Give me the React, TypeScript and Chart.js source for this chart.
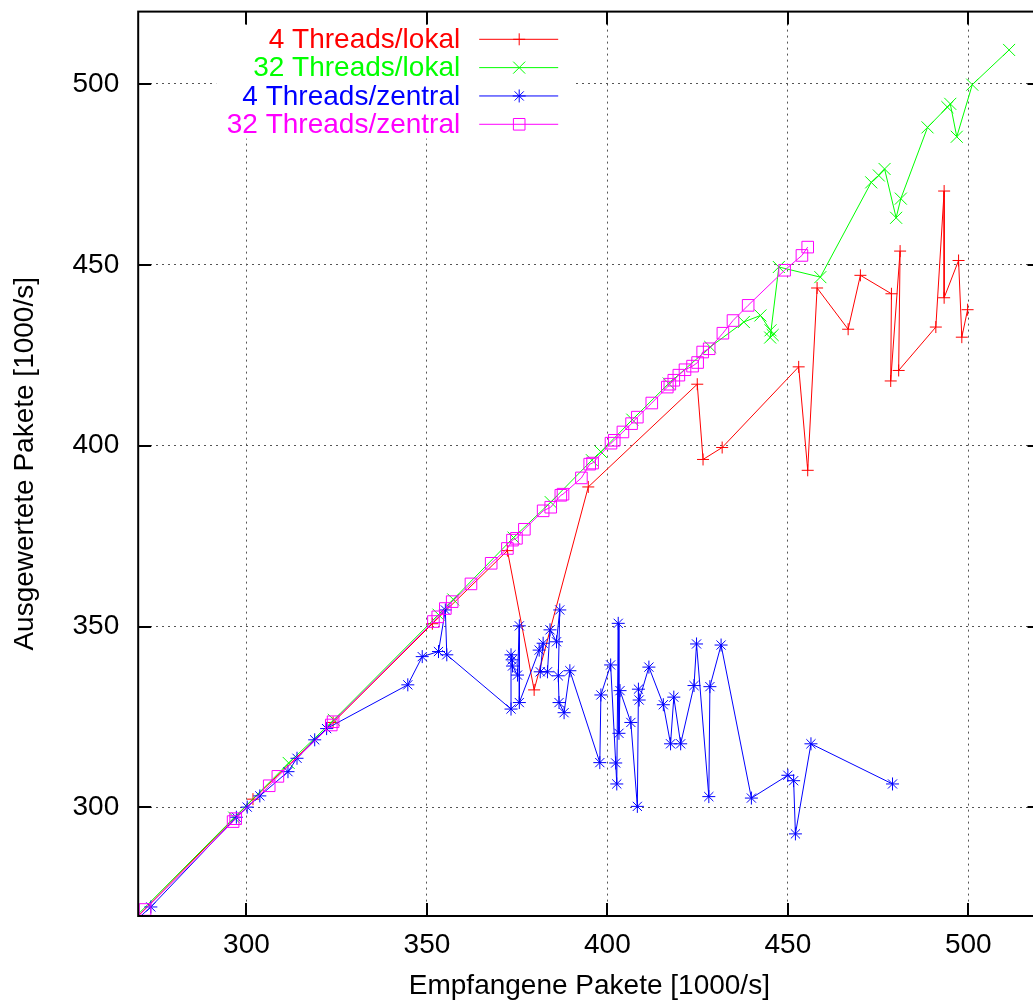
import React, { useEffect, useRef } from 'react';
import { Chart, registerables } from 'chart.js';
import { drawPoint } from 'chart.js/helpers';

Chart.register(...registerables);

const FONT_FAMILY = "'Liberation Sans', Arial, Helvetica, sans-serif";

// Axis setup (values in 1000 packets/s)
const xRange = [270, 520];
const yRange = [270, 520];
const xTicks = [300, 350, 400, 450, 500];
const yTicks = [300, 350, 400, 450, 500];
const xTitle = 'Empfangene Pakete [1000/s]';
const yTitle = 'Ausgewertete Pakete [1000/s]';

// 4 Threads / lokal
const lokal4X = [266, 301.8, 324.0, 351.5, 372.3, 379.7, 394.7, 424.9, 426.5, 431.8, 453.0, 455.5, 458.1, 466.7, 470.1, 478.7, 478.5, 481.1, 480.7, 491.0, 493.3, 493.3, 497.3, 498.2, 499.8];
const lokal4Y = [266, 302.3, 323.5, 350.8, 371.0, 332.5, 388.6, 417.0, 396.2, 399.5, 421.8, 393.2, 443.6, 432.2, 447.1, 442.0, 417.9, 453.8, 420.8, 432.8, 470.4, 440.9, 451.2, 430.0, 437.6];

// 32 Threads / lokal
const lokal32X = [265, 296.6, 311.7, 324.2, 353.2, 357.3, 374.0, 384.3, 395.7, 398.2, 406.9, 417.0, 428.5, 437.8, 442.4, 445.2, 445.8, 445.1, 447.5, 459.0, 473.1, 475.2, 476.8, 480.0, 481.3, 488.7, 494.2, 495.0, 496.8, 501.1, 511.3];
const lokal32Y = [265.5, 297.2, 312.3, 324.2, 353.3, 357.5, 374.6, 384.4, 396.0, 398.3, 407.2, 417.2, 427.3, 434.2, 436.0, 431.9, 430.6, 429.9, 449.4, 446.6, 472.8, 474.7, 476.5, 463.0, 468.3, 488.0, 493.6, 494.5, 485.4, 499.8, 509.4];

// 4 Threads / zentral
const zentral4X = [268.5, 273.5, 297.2, 300.2, 303.7, 311.5, 314.0, 318.9, 322.2, 344.7, 348.7, 353.2, 355.1, 355.5, 373.3, 373.3, 373.6, 373.7, 375.1, 375.6, 375.6, 381.1, 382.2, 381.4, 383.4, 384.1, 385.9, 386.8, 386.4, 386.6, 388.0, 389.6, 397.9, 398.2, 400.9, 402.3, 402.6, 403.0, 403.2, 403.5, 406.5, 408.3, 408.6, 408.8, 411.5, 415.5, 417.5, 418.4, 420.3, 424.0, 424.7, 428.1, 428.4, 431.5, 439.9, 450.0, 451.6, 452.1, 456.4, 479.0];
const zentral4Y = [268, 272.5, 297.3, 300.1, 303.2, 309.9, 313.6, 318.7, 321.8, 333.9, 341.7, 343.1, 354.6, 342.2, 327.2, 342.2, 340.8, 339.1, 336.6, 350.2, 329.0, 343.5, 345.4, 337.5, 337.5, 349.1, 345.8, 354.6, 336.4, 329.0, 326.2, 337.8, 312.4, 331.1, 339.4, 312.3, 306.5, 350.9, 320.5, 332.3, 323.5, 300.3, 332.7, 329.7, 338.8, 328.4, 317.6, 330.5, 317.6, 333.7, 345.2, 303.0, 333.4, 344.9, 302.6, 308.9, 307.4, 292.7, 317.6, 306.5];

// 32 Threads / zentral
const zentral32X = [267, 271.9, 296.3, 297.0, 306.3, 308.7, 323.5, 324.0, 351.8, 353.0, 355.1, 357.0, 362.2, 367.8, 372.3, 373.7, 374.8, 377.0, 382.2, 384.3, 387.1, 387.7, 392.8, 395.1, 395.9, 401.0, 401.9, 404.3, 406.7, 408.3, 412.3, 416.6, 417.3, 418.4, 419.8, 421.5, 423.6, 425.0, 426.4, 428.2, 432.0, 434.8, 439.0, 449.1, 453.9, 455.5];
const zentral32Y = [267, 271.8, 296.1, 296.9, 306.0, 308.6, 322.8, 323.7, 351.4, 352.7, 355.0, 356.9, 361.8, 367.5, 371.6, 373.9, 374.4, 376.9, 382.0, 383.0, 386.3, 386.6, 391.1, 394.9, 395.2, 400.7, 401.5, 403.8, 406.1, 407.9, 411.8, 416.2, 417.0, 418.1, 419.5, 421.0, 422.0, 423.0, 425.9, 426.8, 431.1, 434.6, 438.8, 448.5, 452.6, 454.9];

const seriesLabels = ['4 Threads/lokal', '32 Threads/lokal', '4 Threads/zentral', '32 Threads/zentral'];
const seriesColors = ['#ff0000', '#00ff00', '#0000ff', '#ff00ff'];

const seriesStyles: { pointStyle: any; radius: number }[] = [
  { pointStyle: 'cross', radius: 6 },
  { pointStyle: 'crossRot', radius: 8.5 },
  { pointStyle: 'star', radius: 6.5 },
  { pointStyle: 'rect', radius: 8.2 },
];

const toPoints = (xs: number[], ys: number[]) => xs.map((x, i) => ({ x, y: ys[i] }));

const seriesData = [
  toPoints(lokal4X, lokal4Y),
  toPoints(lokal32X, lokal32Y),
  toPoints(zentral4X, zentral4Y),
  toPoints(zentral32X, zentral32Y),
];

const TRANSPARENT = 'rgba(0,0,0,0)';

// Legend in the upper left, frame with inward ticks on all four sides
const framePlugin = {
  id: 'gnuplotFrame',
  afterDatasetsDraw(chart: any) {
    const { ctx, chartArea: a, scales } = chart;
    const xs = scales.x;
    const ys = scales.y;
    ctx.save();

    // legend background (keeps grid lines out of the key)
    ctx.fillStyle = '#ffffff';
    ctx.fillRect(a.left + 78, a.top + 13, 359, 114);

    const textRight = a.left + 322;
    const lineStart = a.left + 341;
    const lineEnd = a.left + 420;
    const markX = a.left + 381;
    ctx.font = `28px ${FONT_FAMILY}`;
    ctx.textAlign = 'right';
    ctx.textBaseline = 'middle';
    chart.data.datasets.forEach((ds: any, i: number) => {
      const rowY = a.top + 27.7 + i * 28.33;
      ctx.fillStyle = ds.borderColor;
      ctx.fillText(ds.label, textRight, rowY + 1);
      ctx.strokeStyle = ds.borderColor;
      ctx.lineWidth = 1;
      ctx.beginPath();
      ctx.moveTo(lineStart, rowY);
      ctx.lineTo(lineEnd, rowY);
      ctx.stroke();
      ctx.fillStyle = TRANSPARENT;
      drawPoint(ctx, { pointStyle: ds.pointStyle, radius: ds.pointRadius, borderWidth: 1, rotation: 0 } as any, markX, rowY);
    });

    // inward tick marks, mirrored on top and right
    ctx.strokeStyle = '#000';
    ctx.lineWidth = 2;
    const tl = 13;
    ctx.beginPath();
    xTicks.forEach((v) => {
      const px = Math.round(xs.getPixelForValue(v));
      ctx.moveTo(px, a.bottom);
      ctx.lineTo(px, a.bottom - tl);
      ctx.moveTo(px, a.top);
      ctx.lineTo(px, a.top + tl);
    });
    yTicks.forEach((v) => {
      const py = Math.round(ys.getPixelForValue(v));
      ctx.moveTo(a.left, py);
      ctx.lineTo(a.left + tl, py);
      ctx.moveTo(a.right, py);
      ctx.lineTo(a.right - tl, py);
    });
    ctx.stroke();

    // border
    ctx.lineWidth = 2;
    ctx.strokeRect(a.left, a.top, a.right - a.left, a.bottom - a.top);
    ctx.restore();
  },
};

export default function App() {
  const canvasRef = useRef<HTMLCanvasElement>(null);

  useEffect(() => {
    const canvas = canvasRef.current;
    if (!canvas) return;
    const tickFont = { family: FONT_FAMILY, size: 28 };
    const gridStyle = { color: '#555', lineWidth: 1, drawTicks: false };

    const chart = new Chart(canvas, {
      type: 'scatter',
      data: {
        datasets: seriesLabels.map((label, i) => ({
          label,
          data: seriesData[i],
          showLine: true,
          borderColor: seriesColors[i],
          backgroundColor: TRANSPARENT,
          borderWidth: 1,
          pointStyle: seriesStyles[i].pointStyle,
          pointRadius: seriesStyles[i].radius,
          pointHoverRadius: seriesStyles[i].radius,
          pointBorderColor: seriesColors[i],
          pointBackgroundColor: TRANSPARENT,
          pointBorderWidth: 1,
          tension: 0,
          order: seriesLabels.length - i,
        })),
      },
      options: {
        animation: false,
        responsive: false,
        maintainAspectRatio: false,
        devicePixelRatio: 1,
        events: [],
        layout: { padding: { top: 11.6, right: 8, left: 0, bottom: 0 } },
        plugins: {
          legend: { display: false },
          tooltip: { enabled: false },
        },
        scales: {
          x: {
            type: 'linear',
            min: xRange[0],
            max: xRange[1],
            afterBuildTicks: (s: any) => {
              s.ticks = xTicks.map((value) => ({ value }));
            },
            afterFit: (s: any) => {
              s.height = 87;
              s.paddingLeft = 0;
              s.paddingRight = 0;
              s.paddingTop = 0;
              s.paddingBottom = 0;
            },
            grid: gridStyle,
            border: { display: false, dash: [2, 4] },
            ticks: { font: tickFont, color: '#000', padding: 12, maxRotation: 0, autoSkip: false },
            title: { display: true, text: xTitle, font: tickFont, color: '#000', padding: { top: 0, bottom: 0 } },
          },
          y: {
            type: 'linear',
            min: yRange[0],
            max: yRange[1],
            afterBuildTicks: (s: any) => {
              s.ticks = yTicks.map((value) => ({ value }));
            },
            afterFit: (s: any) => {
              s.width = 138.2;
              s.paddingLeft = 0;
              s.paddingRight = 0;
              s.paddingTop = 0;
              s.paddingBottom = 0;
            },
            grid: gridStyle,
            border: { display: false, dash: [2, 4] },
            ticks: { font: tickFont, color: '#000', padding: 19, autoSkip: false },
            title: { display: true, text: yTitle, font: tickFont, color: '#000', padding: { top: 8, bottom: 0 } },
          },
        },
      } as any,
      plugins: [framePlugin],
    });

    return () => chart.destroy();
  }, []);

  return (
    <div
      style={{
        position: 'fixed',
        left: 0,
        top: 0,
        width: 1033,
        height: 1003,
        overflow: 'hidden',
        background: '#ffffff',
      }}
    >
      <canvas ref={canvasRef} width={1050} height={1003} style={{ display: 'block', width: 1050, height: 1003 }} />
    </div>
  );
}
